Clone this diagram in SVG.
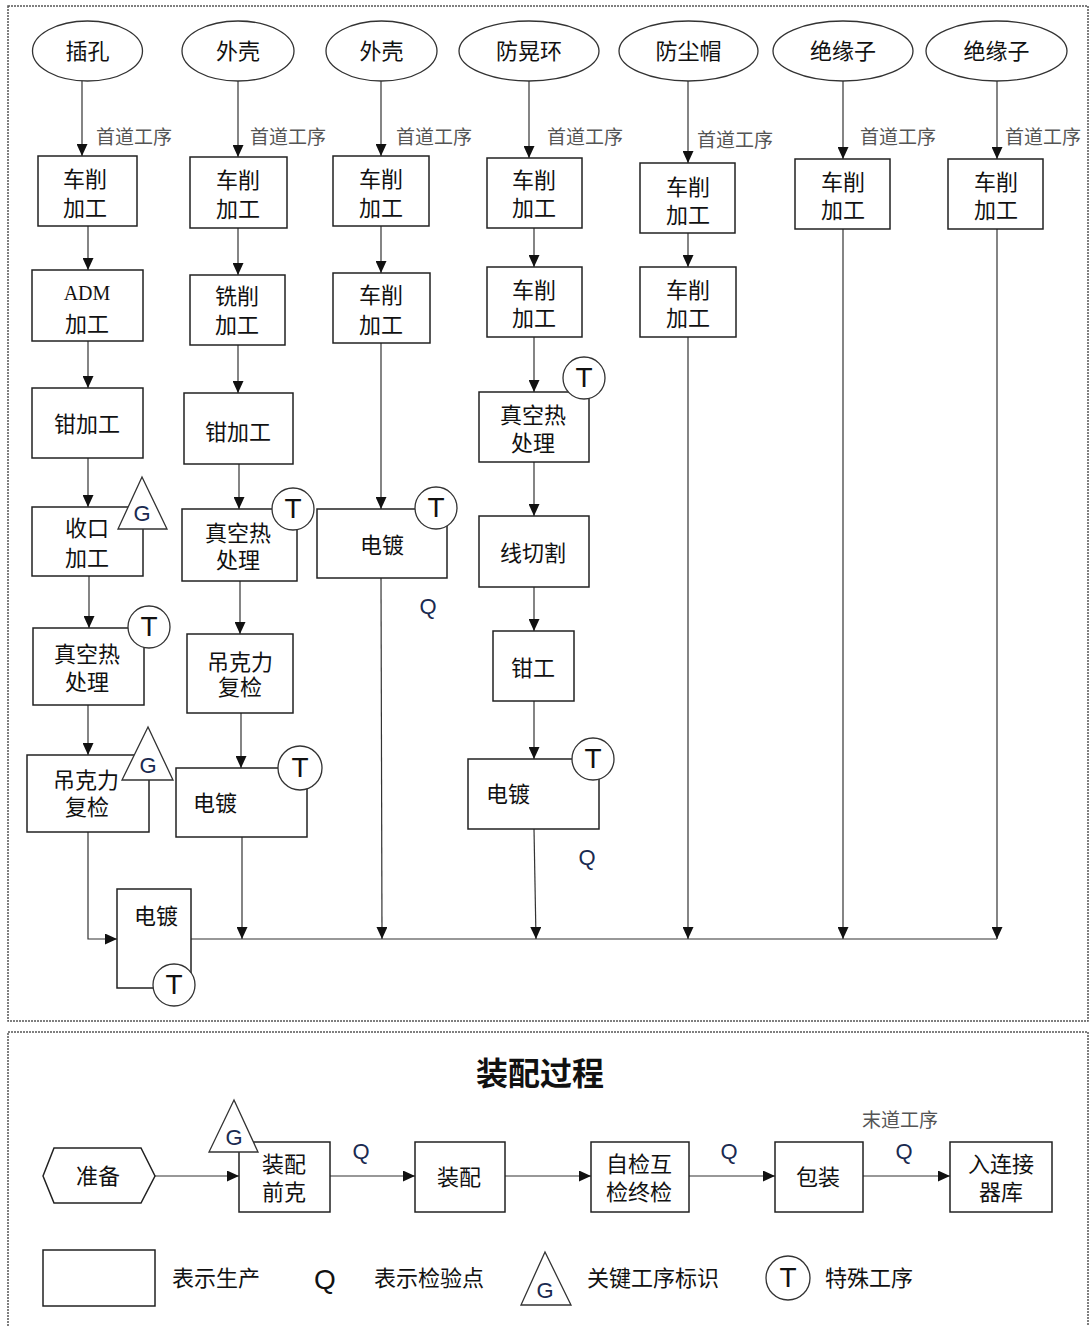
<svg xmlns="http://www.w3.org/2000/svg" width="1089" height="1326" viewBox="0 0 1089 1326">
<style>
.frame{fill:none;stroke:#555;stroke-width:1.5;stroke-dasharray:2 1}
.box{fill:#fff;stroke:#222;stroke-width:1.5}
.ell{fill:#fff;stroke:#333;stroke-width:1.3}
.c{stroke:#333;stroke-width:1.2;fill:none}
.t{font-family:"Noto Sans CJK SC","Noto Sans",sans-serif;font-size:22px;fill:#111;text-anchor:middle;dominant-baseline:central}
.tl{font-family:"Noto Sans CJK SC","Noto Sans",sans-serif;font-size:22px;fill:#111;dominant-baseline:central}
.lab{font-family:"Noto Sans CJK SC",sans-serif;font-size:19px;fill:#555;dominant-baseline:central}
.mk{fill:#fff;stroke:#333;stroke-width:1.3}
.mt{font-family:"Liberation Sans",Arial,sans-serif;font-size:28px;fill:#111;text-anchor:middle;dominant-baseline:central}
.mg{font-family:"Liberation Sans",Arial,sans-serif;font-size:22px;fill:#1a2a50;text-anchor:middle;dominant-baseline:central}
.q{font-family:"Liberation Sans",Arial,sans-serif;font-size:22px;fill:#1a2a50;text-anchor:middle;dominant-baseline:central}
.adm{font-family:"Liberation Serif",serif;font-size:20px;fill:#111}
.title{font-family:"Noto Sans CJK SC",serif;font-size:32px;font-weight:bold;fill:#111;text-anchor:middle;dominant-baseline:central}
</style>
<defs>
<marker id="arr" markerUnits="userSpaceOnUse" markerWidth="12" markerHeight="11" refX="12" refY="5.5" orient="auto">
<path d="M0,0 L12,5.5 L0,11 z" fill="#111"/>
</marker>
</defs>
<rect class="frame" x="8" y="6" width="1080" height="1015"/>
<rect class="frame" x="8" y="1032" width="1080" height="300"/>

<g id="connectors">
<line class="c" x1="82" y1="81" x2="82" y2="156" marker-end="url(#arr)"/>
<line class="c" x1="88" y1="226" x2="88" y2="270" marker-end="url(#arr)"/>
<line class="c" x1="88" y1="341" x2="88" y2="388" marker-end="url(#arr)"/>
<line class="c" x1="88" y1="458" x2="88" y2="507" marker-end="url(#arr)"/>
<line class="c" x1="89" y1="576" x2="89" y2="628" marker-end="url(#arr)"/>
<line class="c" x1="88" y1="705" x2="88" y2="755" marker-end="url(#arr)"/>
<polyline class="c" points="88,832 88,939 117,939" marker-end="url(#arr)"/>

<line class="c" x1="238" y1="81" x2="238" y2="157" marker-end="url(#arr)"/>
<line class="c" x1="238" y1="228" x2="238" y2="275" marker-end="url(#arr)"/>
<line class="c" x1="238" y1="345" x2="238" y2="393" marker-end="url(#arr)"/>
<line class="c" x1="239" y1="464" x2="239" y2="509" marker-end="url(#arr)"/>
<line class="c" x1="240" y1="581" x2="240" y2="634" marker-end="url(#arr)"/>
<line class="c" x1="241" y1="713" x2="241" y2="768" marker-end="url(#arr)"/>
<line class="c" x1="242" y1="837" x2="242" y2="939" marker-end="url(#arr)"/>

<line class="c" x1="381" y1="81" x2="381" y2="156" marker-end="url(#arr)"/>
<line class="c" x1="381" y1="226" x2="381" y2="273" marker-end="url(#arr)"/>
<line class="c" x1="381" y1="343" x2="381" y2="509" marker-end="url(#arr)"/>
<line class="c" x1="381" y1="578" x2="382" y2="939" marker-end="url(#arr)"/>

<line class="c" x1="529" y1="81" x2="529" y2="158" marker-end="url(#arr)"/>
<line class="c" x1="534" y1="228" x2="534" y2="267" marker-end="url(#arr)"/>
<line class="c" x1="534" y1="337" x2="534" y2="392" marker-end="url(#arr)"/>
<line class="c" x1="534" y1="462" x2="534" y2="516" marker-end="url(#arr)"/>
<line class="c" x1="534" y1="587" x2="534" y2="631" marker-end="url(#arr)"/>
<line class="c" x1="534" y1="701" x2="534" y2="759" marker-end="url(#arr)"/>
<line class="c" x1="534" y1="829" x2="536" y2="939" marker-end="url(#arr)"/>

<line class="c" x1="688" y1="81" x2="688" y2="163" marker-end="url(#arr)"/>
<line class="c" x1="688" y1="233" x2="688" y2="267" marker-end="url(#arr)"/>
<line class="c" x1="688" y1="337" x2="688" y2="939" marker-end="url(#arr)"/>

<line class="c" x1="843" y1="81" x2="843" y2="159" marker-end="url(#arr)"/>
<line class="c" x1="843" y1="229" x2="843" y2="939" marker-end="url(#arr)"/>

<line class="c" x1="997" y1="81" x2="997" y2="159" marker-end="url(#arr)"/>
<line class="c" x1="997" y1="229" x2="997" y2="939" marker-end="url(#arr)"/>

<line class="c" x1="191" y1="939" x2="997" y2="939" stroke-width="1.5"/>

<line class="c" x1="155" y1="1176" x2="239" y2="1176" marker-end="url(#arr)"/>
<line class="c" x1="330" y1="1176" x2="415" y2="1176" marker-end="url(#arr)"/>
<line class="c" x1="505" y1="1176" x2="591" y2="1176" marker-end="url(#arr)"/>
<line class="c" x1="689" y1="1176" x2="775" y2="1176" marker-end="url(#arr)"/>
<line class="c" x1="863" y1="1176" x2="950" y2="1176" marker-end="url(#arr)"/>
</g>

<g id="labels">
<text class="lab" x="96" y="135">首道工序</text>
<text class="lab" x="250" y="135">首道工序</text>
<text class="lab" x="396" y="135">首道工序</text>
<text class="lab" x="547" y="135">首道工序</text>
<text class="lab" x="697" y="138">首道工序</text>
<text class="lab" x="860" y="135">首道工序</text>
<text class="lab" x="1005" y="135">首道工序</text>
<text class="q" x="428" y="606">Q</text>
<text class="q" x="587" y="857">Q</text>
<text class="q" x="361" y="1151">Q</text>
<text class="q" x="729" y="1151">Q</text>
<text class="q" x="904" y="1151">Q</text>
<text class="lab" x="862" y="1118">末道工序</text>
<text class="title" x="540" y="1071">装配过程</text>
</g>

<g id="e1"><ellipse class="ell" cx="87.5" cy="51" rx="55" ry="30"/><text class="t" x="87.5" y="49">插孔</text></g>
<g id="e2"><ellipse class="ell" cx="238" cy="51" rx="56" ry="30"/><text class="t" x="238" y="49">外壳</text></g>
<g id="e3"><ellipse class="ell" cx="381.5" cy="51" rx="55.5" ry="30"/><text class="t" x="381.5" y="49">外壳</text></g>
<g id="e4"><ellipse class="ell" cx="529" cy="51" rx="70" ry="30"/><text class="t" x="529" y="49">防晃环</text></g>
<g id="e5"><ellipse class="ell" cx="688.5" cy="51" rx="69.5" ry="30"/><text class="t" x="688.5" y="49">防尘帽</text></g>
<g id="e6"><ellipse class="ell" cx="843" cy="51" rx="70" ry="30"/><text class="t" x="843" y="49">绝缘子</text></g>
<g id="e7"><ellipse class="ell" cx="996.5" cy="51" rx="70.5" ry="30"/><text class="t" x="996.5" y="49">绝缘子</text></g>

<g id="b1_1"><rect class="box" x="38" y="156" width="99" height="70"/><text class="t" x="85" y="177"><tspan x="85">车削</tspan><tspan x="85" dy="29">加工</tspan></text></g>
<g id="b1_2"><rect class="box" x="32" y="270" width="111" height="71"/><text class="t" x="87" y="293"><tspan x="87" class="adm">ADM</tspan><tspan x="87" dy="29">加工</tspan></text></g>
<g id="b1_3"><rect class="box" x="32" y="388" width="111" height="70"/><text class="t" x="87" y="422">钳加工</text></g>
<g id="b1_4"><rect class="box" x="32" y="507" width="111" height="69"/><text class="t" x="87" y="526"><tspan x="87">收口</tspan><tspan x="87" dy="30">加工</tspan></text>
<polygon class="mk" points="142,477 118,529 167,529"/><text class="mg" x="142" y="513">G</text></g>
<g id="b1_5"><rect class="box" x="33" y="628" width="111" height="77"/><text class="t" x="87" y="652"><tspan x="87">真空热</tspan><tspan x="87" dy="28">处理</tspan></text>
<circle class="mk" cx="149" cy="627" r="21"/><text class="mt" x="149" y="626">T</text></g>
<g id="b1_6"><rect class="box" x="27" y="755" width="122" height="77"/><text class="t" x="86" y="778"><tspan x="86">吊克力</tspan><tspan x="87" dy="27">复检</tspan></text>
<polygon class="mk" points="148,727 122,780 173,780"/><text class="mg" x="148" y="765">G</text></g>
<g id="b1_7"><rect class="box" x="117" y="889" width="74" height="99"/><text class="t" x="156" y="914" fill="#1a2a50">电镀</text>
<circle class="mk" cx="174" cy="985" r="21"/><text class="mt" x="174" y="984">T</text></g>

<g id="b2_1"><rect class="box" x="190" y="157" width="97" height="71"/><text class="t" x="238" y="178"><tspan x="238">车削</tspan><tspan x="238" dy="29">加工</tspan></text></g>
<g id="b2_2"><rect class="box" x="190" y="275" width="95" height="70"/><text class="t" x="237" y="294"><tspan x="237">铣削</tspan><tspan x="237" dy="29">加工</tspan></text></g>
<g id="b2_3"><rect class="box" x="184" y="393" width="109" height="71"/><text class="t" x="238" y="430">钳加工</text></g>
<g id="b2_4"><rect class="box" x="182" y="509" width="115" height="72"/><text class="t" x="238" y="531"><tspan x="238">真空热</tspan><tspan x="238" dy="27">处理</tspan></text>
<circle class="mk" cx="293" cy="509" r="21"/><text class="mt" x="293" y="508">T</text></g>
<g id="b2_5"><rect class="box" x="187" y="634" width="106" height="79"/><text class="t" x="240" y="660"><tspan x="240">吊克力</tspan><tspan x="240" dy="25">复检</tspan></text></g>
<g id="b2_6"><rect class="box" x="176" y="768" width="131" height="69"/><text class="tl" x="193" y="801">电镀</text>
<circle class="mk" cx="300" cy="768" r="22"/><text class="mt" x="300" y="767">T</text></g>

<g id="b3_1"><rect class="box" x="333" y="156" width="96" height="70"/><text class="t" x="381" y="177"><tspan x="381">车削</tspan><tspan x="381" dy="29">加工</tspan></text></g>
<g id="b3_2"><rect class="box" x="333" y="273" width="97" height="70"/><text class="t" x="381" y="293"><tspan x="381">车削</tspan><tspan x="381" dy="30">加工</tspan></text></g>
<g id="b3_3"><rect class="box" x="317" y="509" width="130" height="69"/><text class="t" x="382" y="543">电镀</text>
<circle class="mk" cx="436" cy="508" r="21"/><text class="mt" x="436" y="507">T</text></g>

<g id="b4_1"><rect class="box" x="487" y="158" width="95" height="70"/><text class="t" x="534" y="178"><tspan x="534">车削</tspan><tspan x="534" dy="28">加工</tspan></text></g>
<g id="b4_2"><rect class="box" x="487" y="267" width="95" height="70"/><text class="t" x="534" y="288"><tspan x="534">车削</tspan><tspan x="534" dy="28">加工</tspan></text></g>
<g id="b4_3"><rect class="box" x="479" y="392" width="110" height="70"/><text class="t" x="533" y="413"><tspan x="533">真空热</tspan><tspan x="533" dy="28">处理</tspan></text>
<circle class="mk" cx="584" cy="378" r="21"/><text class="mt" x="584" y="377">T</text></g>
<g id="b4_4"><rect class="box" x="479" y="516" width="110" height="71"/><text class="t" x="533" y="551">线切割</text></g>
<g id="b4_5"><rect class="box" x="493" y="631" width="81" height="70"/><text class="t" x="533" y="666">钳工</text></g>
<g id="b4_6"><rect class="box" x="468" y="759" width="131" height="70"/><text class="tl" x="486" y="792">电镀</text>
<circle class="mk" cx="593" cy="759" r="21"/><text class="mt" x="593" y="758">T</text></g>

<g id="b5_1"><rect class="box" x="640" y="163" width="95" height="70"/><text class="t" x="688" y="185"><tspan x="688">车削</tspan><tspan x="688" dy="28">加工</tspan></text></g>
<g id="b5_2"><rect class="box" x="640" y="267" width="96" height="70"/><text class="t" x="688" y="288"><tspan x="688">车削</tspan><tspan x="688" dy="28">加工</tspan></text></g>

<g id="b6_1"><rect class="box" x="795" y="159" width="95" height="70"/><text class="t" x="843" y="180"><tspan x="843">车削</tspan><tspan x="843" dy="28">加工</tspan></text></g>
<g id="b7_1"><rect class="box" x="948" y="159" width="95" height="70"/><text class="t" x="996" y="180"><tspan x="996">车削</tspan><tspan x="996" dy="28">加工</tspan></text></g>

<g id="a_prep"><polygon class="box" points="43,1176 54,1148 141,1148 155,1176 141,1203 54,1203"/><text class="t" x="98" y="1174">准备</text></g>
<g id="a_pre"><rect class="box" x="239" y="1142" width="91" height="70"/><text class="t" x="284" y="1162"><tspan x="284">装配</tspan><tspan x="284" dy="28">前克</tspan></text>
<polygon class="mk" points="234,1100 209,1152 258,1152"/><text class="mg" x="234" y="1137">G</text></g>
<g id="a_asm"><rect class="box" x="415" y="1142" width="90" height="70"/><text class="t" x="459" y="1175">装配</text></g>
<g id="a_chk"><rect class="box" x="591" y="1142" width="98" height="70"/><text class="t" x="639" y="1162"><tspan x="639">自检互</tspan><tspan x="639" dy="28">检终检</tspan></text></g>
<g id="a_pack"><rect class="box" x="775" y="1142" width="88" height="70"/><text class="t" x="818" y="1175">包装</text></g>
<g id="a_store"><rect class="box" x="950" y="1142" width="102" height="70"/><text class="t" x="1001" y="1162"><tspan x="1001">入连接</tspan><tspan x="1001" dy="28">器库</tspan></text></g>

<g id="legend">
<rect class="box" x="43" y="1250" width="112" height="56"/>
<text class="tl" x="172" y="1276">表示生产</text>
<text class="mt" x="325" y="1279" font-size="28">Q</text>
<text class="tl" x="374" y="1276">表示检验点</text>
<polygon class="mk" points="545,1252 521,1305 571,1305"/><text class="mg" x="545" y="1290">G</text>
<text class="tl" x="587" y="1276">关键工序标识</text>
<circle class="mk" cx="788" cy="1278" r="22"/><text class="mt" x="788" y="1277">T</text>
<text class="tl" x="825" y="1276">特殊工序</text>
</g>
</svg>
